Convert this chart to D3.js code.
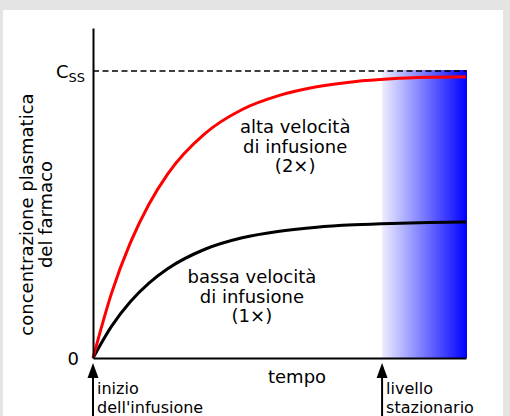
<!DOCTYPE html>
<html>
<head>
<meta charset="utf-8">
<script src="https://d3js.org/d3.v7.min.js"></script>
<style>
	html, body { margin: 0; padding: 0; background: #e4e4e4; }
	svg { display: block; }
	text { font-family: "DejaVu Sans", sans-serif; font-size: 18px; fill: #000; }
</style>
</head>
<body>
<div id="chart"></div>
<script>
	// valori (tempo in unità arbitrarie, concentrazione relativa a Css)
	const times    = [0, 0.5, 1, 1.5, 2, 3, 4, 5, 6, 7, 8, 9, 10]
	const highRate = [0, 0.227, 0.401, 0.536, 0.641, 0.782, 0.866, 0.915, 0.945, 0.963, 0.973, 0.978, 0.98]
	const lowRate  = [0, 0.111, 0.196, 0.261, 0.311, 0.379, 0.419, 0.442, 0.456, 0.464, 0.469, 0.472, 0.474]
	const css = 1
	const steadyStart = 7.75
	const yTicks = [0, css]
	const highLabel = ['alta velocità', 'di infusione', '(2×)']
	const lowLabel = ['bassa velocità', 'di infusione', '(1×)']
	const yLabel = ['concentrazione plasmatica', 'del farmaco']

	const W = 510, H = 416
	const svg = d3.select('#chart').append('svg')
		.attr('width', W)
		.attr('height', H)

	// pannello bianco
	svg.append('rect')
		.attr('x', 3).attr('y', 10)
		.attr('width', 500).attr('height', H - 10)
		.style('fill', '#fff')

	const x = d3.scaleLinear().domain([0, 10]).range([93, 466])
	const y = d3.scaleLinear().domain([0, 1.15]).range([358, 28])

	const defs = svg.append('defs')
	const grad = defs.append('linearGradient')
		.attr('id', 'steady')
		.attr('x1', '0%').attr('x2', '100%')
		.attr('y1', '0%').attr('y2', '0%')
	grad.append('stop').attr('offset', '0%').attr('stop-color', '#0000ff').attr('stop-opacity', 0.07)
	grad.append('stop').attr('offset', '100%').attr('stop-color', '#0000ff').attr('stop-opacity', 1)

	svg.append('rect')
		.attr('x', x(steadyStart))
		.attr('y', y(css) - 1)
		.attr('width', x(10) - x(steadyStart) + 1)
		.attr('height', y(0) - y(css) + 1)
		.style('fill', 'url(#steady)')

	// linea tratteggiata Css
	svg.append('line')
		.attr('x1', x(0)).attr('x2', x(10))
		.attr('y1', y(css)).attr('y2', y(css))
		.style('stroke', '#000')
		.style('stroke-width', 1.5)
		.style('stroke-dasharray', '6,3.5')

	const line = d3.line()
		.x((d, i) => x(times[i]))
		.y(d => y(d))
		.curve(d3.curveMonotoneX)

	svg.append('path')
		.datum(lowRate)
		.attr('d', line)
		.style('fill', 'none')
		.style('stroke', '#000')
		.style('stroke-width', 3)

	svg.append('path')
		.datum(highRate)
		.attr('d', line)
		.style('fill', 'none')
		.style('stroke', '#ff0000')
		.style('stroke-width', 3)

	// assi
	const yAxis = svg.append('g')
		.attr('transform', 'translate(' + x(0) + ',0)')
		.call(d3.axisLeft(y).tickValues(yTicks).tickSize(0).tickSizeOuter(0).tickPadding(14).tickFormat(d => d === 0 ? '0' : ''))
	yAxis.select('.domain').style('stroke-width', 2)
	yAxis.selectAll('text')
		.style('font-family', '"DejaVu Sans", sans-serif')
		.style('font-size', '18px')
		.attr('dy', '0.36em')
	yAxis.selectAll('.tick').filter(d => d === css).select('text')
		.attr('x', -8)
		.each(function() {
			const t = d3.select(this)
			t.append('tspan').text('C')
			t.append('tspan').text('SS').attr('dy', 4).style('font-size', '13px')
		})

	const xAxis = svg.append('g')
		.attr('transform', 'translate(0,' + y(0) + ')')
		.call(d3.axisBottom(x).tickValues([]).tickSizeOuter(0))
	xAxis.select('.domain').style('stroke-width', 2)

	svg.append('text')
		.attr('x', x(5.47))
		.attr('y', y(0) + 25)
		.attr('text-anchor', 'middle')
		.text('tempo')

	// frecce
	const arrows = [
		{t: 0, lines: ['inizio', "dell'infusione"]},
		{t: steadyStart, lines: ['livello', 'stazionario']}
	]
	arrows.forEach(a => {
		const ax = x(a.t)
		const tip = y(0) + 5
		svg.append('line')
			.attr('x1', ax).attr('x2', ax)
			.attr('y1', tip + 10).attr('y2', H)
			.style('stroke', '#000')
			.style('stroke-width', 2)
		svg.append('path')
			.attr('d', 'M' + ax + ',' + tip + 'L' + (ax + 5.5) + ',' + (tip + 15) + 'L' + (ax - 5.5) + ',' + (tip + 15) + 'Z')
			.style('fill', '#000')
		svg.append('text')
			.attr('x', ax + 4)
			.attr('y', y(0) + 36)
			.style('font-size', '16px')
			.selectAll('tspan')
			.data(a.lines)
			.join('tspan')
			.attr('x', ax + 4)
			.attr('dy', (d, i) => i === 0 ? 0 : 18.7)
			.text(d => d)
	})

	// etichette delle curve
	function label(lines, t, c) {
		svg.append('text')
			.attr('text-anchor', 'middle')
			.attr('x', x(t))
			.attr('y', y(c))
			.selectAll('tspan')
			.data(lines)
			.join('tspan')
			.attr('x', x(t))
			.attr('dy', (d, i) => i === 0 ? 0 : 19.5)
			.text(d => d)
	}
	label(highLabel, 5.42, 0.784)
	label(lowLabel, 4.26, 0.261)

	// etichetta asse y
	svg.append('text')
		.attr('transform', 'translate(33,' + y(0.5) + ') rotate(-90)')
		.attr('text-anchor', 'middle')
		.selectAll('tspan')
		.data(yLabel)
		.join('tspan')
		.attr('x', 0)
		.attr('dy', (d, i) => i === 0 ? 0 : 19)
		.text(d => d)
</script>
</body>
</html>
